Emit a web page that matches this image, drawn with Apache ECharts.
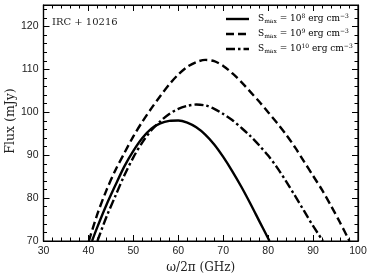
<!DOCTYPE html>
<html><head><meta charset="utf-8">
<script src="https://cdn.jsdelivr.net/npm/echarts@6/dist/echarts.min.js"></script>
<style>html,body{margin:0;padding:0;background:#fff}#c{width:374px;height:277px}</style>
</head><body><div id="c"></div>
<script>
const xTicks = [30, 40, 50, 60, 70, 80, 90, 100];
const yTicks = [70, 80, 90, 100, 110, 120];
const seriesNames = ['S8', 'S9', 'S10'];
const legendLabels = ['10^8', '10^9', '10^10'];
const s8 = [[40.8,70],[42,73.3],[44,78.4],[46,83],[48,87.4],[50,91],[52,94],[54,96.2],[56,97.4],[58,98],[60,98.1],[62,97.6],[64,96.5],[66,94.8],[68,92.5],[70,89.6],[72,86.3],[74,82.7],[76,78.8],[78,74.7],[80.3,70]];
const s9 = [[40.1,70],[42,76.3],[44,81.8],[46,86.5],[48,90.5],[50,94.4],[52,97.8],[54,100.9],[56,103.8],[58,106.5],[60,108.8],[62,110.6],[64,111.7],[66,112.2],[68,111.9],[70,110.8],[72,109.1],[74,107.1],[76,104.8],[78,102.5],[80,100],[82,97.5],[84,94.8],[86,91.8],[88,88.5],[90,85.2],[92,81.9],[94,78.2],[96,74.3],[98.1,70]];
const s10 = [[42,70],[44,75.6],[46,80.5],[48,85.3],[50,89.5],[52,93],[54,95.8],[56,97.9],[58,99.6],[60,100.8],[62,101.5],[64,101.8],[66,101.6],[68,100.8],[70,99.6],[72,98.2],[74,96.4],[76,94.5],[78,92.3],[80,89.9],[82,87.1],[84,83.9],[86,80.5],[88,77],[90,73.5],[92.2,70]];

const serif = '"DejaVu Serif","Liberation Serif",serif';
const sans = '"Liberation Sans",Arial,sans-serif';
const chart = echarts.init(document.getElementById('c'));

function mkAxis(opts){
  return Object.assign({
    type:'value',
    axisLine:{show:true,onZero:false,lineStyle:{color:'#000',width:1.2}},
    axisTick:{show:true,inside:true,length:6,lineStyle:{color:'#000',width:1}},
    minorTick:{show:true,splitNumber:5,length:3.5,lineStyle:{color:'#000',width:1}},
    splitLine:{show:false}
  }, opts);
}
const rich = {
  t:{fontFamily:serif,fontSize:9,color:'#222'},
  sub:{fontFamily:serif,fontSize:6,color:'#222',padding:[5,0,0,0]},
  sup:{fontFamily:serif,fontSize:6,color:'#222',padding:[0,0,6,0]}
};
function legendRich(lbl){
  const p = lbl.split('^');
  return '{t|S}{sub|max}{t| = ' + p[0] + '}{sup|' + p[1] + '}{t| erg cm}{sup|−3}';
}
const legendY = [19, 34, 49];
const dashes = [null, [8,4], [9,3,2.5,3]];
const graphics = [
  {type:'text',x:52,y:22.5,style:{text:'IRC + 10216',font:'10px '+serif,fill:'#222',verticalAlign:'middle'}},
  {type:'text',x:11,y:121,rotation:Math.PI/2,style:{text:'Flux (mJy)',font:'12.5px '+serif,fill:'#222',align:'center',verticalAlign:'middle'}}
];
seriesNames.forEach((n,i)=>{
  graphics.push({type:'line',shape:{x1:226,y1:legendY[i],x2:249,y2:legendY[i]},
    style:{stroke:'#000',lineWidth:2.4,lineDash:dashes[i]}});
  graphics.push({type:'text',x:258,y:legendY[i],style:{text:legendRich(legendLabels[i]),rich:rich,verticalAlign:'middle',align:'left'}});
});

chart.setOption({
  animation:false,
  grid:{left:43.5,right:16,top:5,bottom:36,containLabel:false,outerBoundsMode:'none',show:true,borderColor:'#000',borderWidth:1.2},
  xAxis:[
    mkAxis({position:'bottom',min:30,max:100,interval:10,
      axisLabel:{fontFamily:sans,fontSize:10.5,color:'#222',margin:5},
      name:'ω/2π (GHz)', nameLocation:'middle', nameGap:20,
      nameTextStyle:{fontFamily:serif,fontSize:12,color:'#222'}}),
    mkAxis({position:'top',min:30,max:100,interval:10, axisLabel:{show:false}})
  ],
  yAxis:[
    mkAxis({min:70,max:125,interval:10,position:'left',
      axisLabel:{fontFamily:sans,fontSize:10.5,color:'#222',margin:5,
        formatter:v=> yTicks.includes(v)?String(v):''}}),
    mkAxis({min:70,max:125,interval:10,position:'right', axisLabel:{show:false}})
  ],
  graphic:graphics,
  series:[
    {name:'S8',type:'line',data:s8,smooth:0.3,symbol:'none',lineStyle:{color:'#000',width:2.4,type:'solid'}},
    {name:'S9',type:'line',data:s9,smooth:0.3,symbol:'none',lineStyle:{color:'#000',width:2.4,type:[8,4]}},
    {name:'S10',type:'line',data:s10,smooth:0.3,symbol:'none',lineStyle:{color:'#000',width:2.4,type:[9,3,2.5,3]}}
  ]
});
</script></body></html>
